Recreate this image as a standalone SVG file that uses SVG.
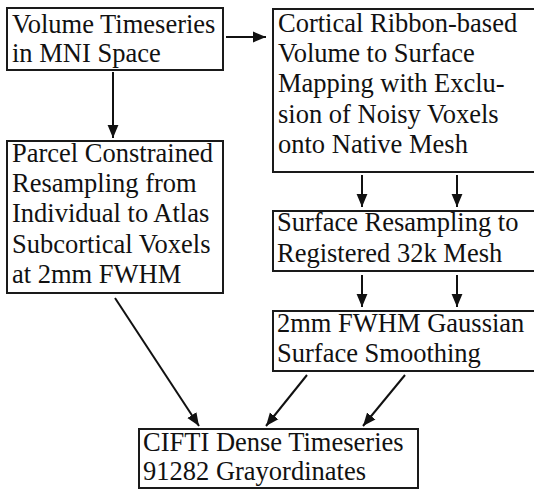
<svg xmlns="http://www.w3.org/2000/svg" width="534" height="491" viewBox="0 0 534 491">
<defs>
<marker id="ah" viewBox="0 0 12 10" refX="12" refY="5" markerWidth="6.5" markerHeight="6" orient="auto" markerUnits="strokeWidth">
<path d="M0,0 L12,5 L0,10 Z" fill="#111"/>
</marker>
<style>
.box{fill:#fff;stroke:#1a1a1a;stroke-width:2}
.t{font-family:"Liberation Serif","Times New Roman",serif;font-size:26.5px;fill:#111}
.c{stroke:#111;stroke-width:2;fill:none;marker-end:url(#ah)}
</style>
</defs>
<rect width="534" height="491" fill="#fff"/>
<g id="n1"><rect class="box" x="7" y="8" width="216" height="62"/>
<text class="t" x="12" y="33">Volume Timeseries</text><text class="t" x="12" y="62">in MNI Space</text></g>
<g id="n2"><rect class="box" x="273" y="9" width="270" height="163"/>
<text class="t" x="278" y="32">Cortical Ribbon-based</text><text class="t" x="278" y="62">Volume to Surface</text><text class="t" x="278" y="92">Mapping with Exclu-</text><text class="t" x="278" y="123">sion of Noisy Voxels</text><text class="t" x="278" y="153">onto Native Mesh</text></g>
<g id="n3"><rect class="box" x="7" y="141" width="216" height="152"/>
<text class="t" x="12" y="162">Parcel Constrained</text><text class="t" x="12" y="192">Resampling from</text><text class="t" x="12" y="222">Individual to Atlas</text><text class="t" x="12" y="253">Subcortical Voxels</text><text class="t" x="12" y="283">at 2mm FWHM</text></g>
<g id="n4"><rect class="box" x="273" y="211" width="270" height="60"/>
<text class="t" x="277" y="231">Surface Resampling to</text><text class="t" x="277" y="262">Registered 32k Mesh</text></g>
<g id="n5"><rect class="box" x="273" y="311" width="270" height="60"/>
<text class="t" x="277" y="332">2mm FWHM Gaussian</text><text class="t" x="277" y="362">Surface Smoothing</text></g>
<g id="n6"><rect class="box" x="139" y="429" width="279" height="59"/>
<text class="t" x="143" y="451">CIFTI Dense Timeseries</text><text class="t" x="143" y="480">91282 Grayordinates</text></g>
<g id="connectors">
<line class="c" x1="226" y1="37" x2="266" y2="37"/>
<line class="c" x1="113" y1="72" x2="113" y2="138"/>
<line class="c" x1="362" y1="175" x2="362" y2="207"/>
<line class="c" x1="457" y1="175" x2="457" y2="207"/>
<line class="c" x1="362" y1="275" x2="362" y2="307"/>
<line class="c" x1="457" y1="275" x2="457" y2="307"/>
<line class="c" x1="115" y1="298" x2="199" y2="426"/>
<line class="c" x1="307" y1="375" x2="266" y2="426"/>
<line class="c" x1="405" y1="375" x2="363" y2="426"/>
</g>
</svg>
